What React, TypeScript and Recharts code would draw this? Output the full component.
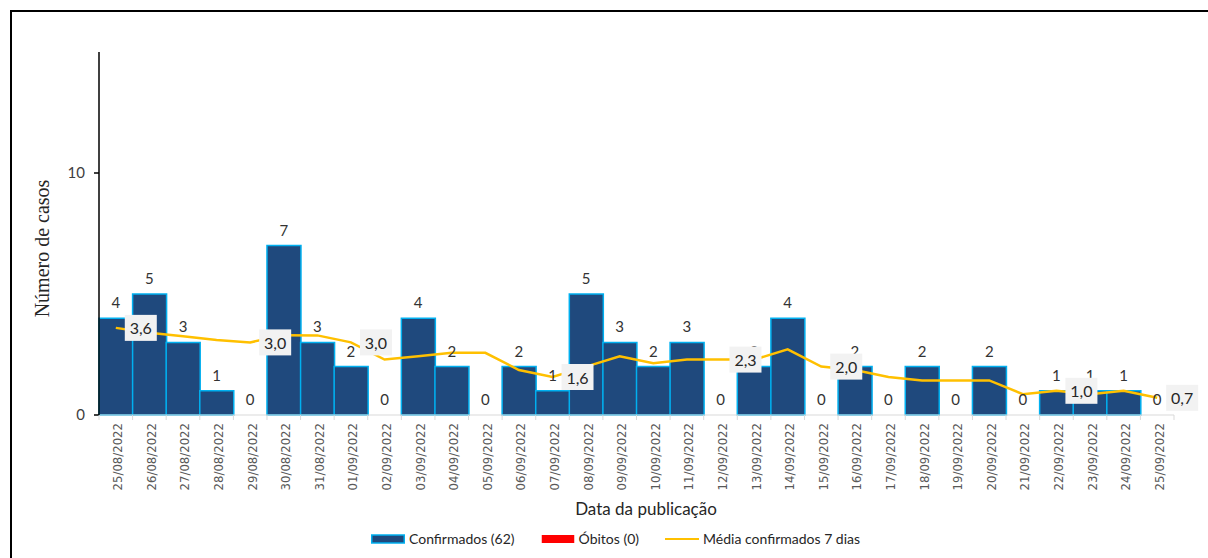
import React from 'react';
import { ComposedChart, Bar, Line, XAxis, YAxis, Legend, LabelList } from 'recharts';

const dates = [
  '25/08/2022', '26/08/2022', '27/08/2022', '28/08/2022', '29/08/2022', '30/08/2022', '31/08/2022',
  '01/09/2022', '02/09/2022', '03/09/2022', '04/09/2022', '05/09/2022', '06/09/2022', '07/09/2022',
  '08/09/2022', '09/09/2022', '10/09/2022', '11/09/2022', '12/09/2022', '13/09/2022', '14/09/2022',
  '15/09/2022', '16/09/2022', '17/09/2022', '18/09/2022', '19/09/2022', '20/09/2022', '21/09/2022',
  '22/09/2022', '23/09/2022', '24/09/2022', '25/09/2022',
];
const confirmados = [4, 5, 3, 1, 0, 7, 3, 2, 0, 4, 2, 0, 2, 1, 5, 3, 2, 3, 0, 2, 4, 0, 2, 0, 2, 0, 2, 0, 1, 1, 1, 0];
const obitos = [0, 0, 0, 0, 0, 0, 0, 0, 0, 0, 0, 0, 0, 0, 0, 0, 0, 0, 0, 0, 0, 0, 0, 0, 0, 0, 0, 0, 0, 0, 0, 0];
const media7 = [
  3.6, 3.4, 3.25, 3.1, 3.0, 3.3, 3.29, 3.0, 2.29, 2.43, 2.57, 2.57, 1.86, 1.57, 2.0, 2.43,
  2.14, 2.29, 2.29, 2.29, 2.71, 2.0, 1.86, 1.57, 1.43, 1.43, 1.43, 0.86, 1.0, 0.86, 1.0, 0.71,
];
// dias com rótulo da média móvel
const mediaLabelDates = ['25/08/2022', '29/08/2022', '01/09/2022', '07/09/2022', '12/09/2022', '15/09/2022', '22/09/2022', '25/09/2022'];
const yTicks = [0, 10];
const legendOrder = ['Confirmados (62)', 'Óbitos (0)', 'Média confirmados 7 dias'];

const data = dates.map((d, i) => ({
  date: d,
  confirmados: confirmados[i],
  obitos: obitos[i],
  media: media7[i],
}));

const W = 1208;
const H = 558;
const PLOT_LEFT = 99;
const PLOT_RIGHT = 34;
const BAND = (W - PLOT_LEFT - PLOT_RIGHT) / dates.length;
const SANS = 'Lato, "Open Sans", sans-serif';

const XTick = (props: any) => {
  const { x, y, payload, index } = props;
  const half = BAND / 2;
  const last = index === dates.length - 1;
  return (
    <g>
      <line x1={x - half} x2={x - half} y1={y} y2={y + 5} stroke="#d9d9d9" />
      {last && <line x1={x + half} x2={x + half} y1={y} y2={y + 5} stroke="#d9d9d9" />}
      <text
        transform={`translate(${x + 6.5},${y + 8}) rotate(-90)`}
        textAnchor="end"
        fontFamily='"Liberation Sans Narrow", "DejaVu Sans Condensed", sans-serif'
        fontSize={13}
        fill="#595959"
      >
        {payload.value}
      </text>
    </g>
  );
};

const MediaLabel = (props: any) => {
  const { x, y, value } = props;
  const idx = props.index ?? Math.round((x - PLOT_LEFT) / BAND - 0.5);
  if (!mediaLabelDates.includes(dates[idx])) return null;
  const cx = x + 25;
  return (
    <g>
      <rect x={cx - 16} y={y - 13} width={32} height={26} fill="#f2f2f2" />
      <text x={cx} y={y} textAnchor="middle" dominantBaseline="central" fontFamily={SANS} fontSize={16} fill="#262626">
        {Number(value).toFixed(1).replace('.', ',')}
      </text>
    </g>
  );
};

const renderLegend = (props: any) => {
  const payload = (props.payload || [])
    .filter((e: any) => legendOrder.includes(e.value))
    .sort((a: any, b: any) => legendOrder.indexOf(a.value) - legendOrder.indexOf(b.value));
  return (
    <div style={{ display: 'flex', alignItems: 'center', fontFamily: SANS, fontSize: 14, color: '#262626' }}>
      {payload.map((entry: any) => (
        <div key={entry.value} style={{ display: 'flex', alignItems: 'center', marginRight: 26 }}>
          <svg width={34} height={10} style={{ marginRight: 4 }}>
            {entry.type === 'line' ? (
              <line x1={0} x2={34} y1={5} y2={5} stroke={entry.color} strokeWidth={2} />
            ) : (
              <rect x={0.75} y={1} width={32.5} height={8} fill={entry.color} stroke={entry.payload?.stroke} strokeWidth={1.5} />
            )}
          </svg>
          <span>{entry.value}</span>
        </div>
      ))}
    </div>
  );
};

export default function App() {
  return (
    <div style={{ position: 'absolute', left: 0, top: 0, width: W, height: H, overflow: 'hidden', background: '#fff' }}>
      <div
        style={{
          position: 'absolute',
          left: 10,
          top: 10,
          width: W + 20,
          height: H + 20,
          borderTop: '2px solid #000',
          borderLeft: '2px solid #000',
        }}
      />
      <div style={{ position: 'absolute', left: 0, top: 0 }}>
        <ComposedChart
          width={W}
          height={H}
          data={data}
          margin={{ top: 52, right: PLOT_RIGHT, left: 0, bottom: 0 }}
          barCategoryGap={0}
        >
          <XAxis
            dataKey="date"
            height={143}
            interval={0}
            axisLine={{ stroke: '#d9d9d9' }}
            tickLine={false}
            tickSize={0}
            tickMargin={0}
            tick={<XTick />}
            label={(p: any) => {
              const vb = p.viewBox;
              return (
                <text x={vb.x + vb.width / 2 + 9.5} y={vb.y + 93} textAnchor="middle" dominantBaseline="central" fontFamily={SANS} fontSize={17} fill="#262626">
                  Data da publicação
                </text>
              );
            }}
          />
          <YAxis
            width={PLOT_LEFT}
            domain={[0, 15]}
            ticks={yTicks}
            interval={0}
            axisLine={{ stroke: '#000', strokeWidth: 1.5 }}
            tickLine={{ stroke: '#000', strokeWidth: 1.5 }}
            tickSize={5}
            tickMargin={9}
            tick={{ fontFamily: SANS, fontSize: 15, fill: '#404040' }}
            label={(p: any) => {
              const vb = p.viewBox;
              const cx = vb.x + 42;
              const cy = vb.y + vb.height / 2 + 15;
              return (
                <text
                  transform={`translate(${cx},${cy}) rotate(-90)`}
                  textAnchor="middle"
                  dominantBaseline="central"
                  fontFamily='"Liberation Serif", "Times New Roman", serif'
                  fontSize={20}
                  fill="#262626"
                >
                  Número de casos
                </text>
              );
            }}
          />
          <Legend
            layout="horizontal"
            verticalAlign="middle"
            align="center"
            wrapperStyle={{ top: 530, left: 371, width: 700, height: 20 }}
            content={renderLegend}
          />
          <Bar
            dataKey="confirmados"
            name="Confirmados (62)"
            stackId="a"
            fill="#1f497d"
            stroke="#00b0f0"
            strokeWidth={1.5}
            isAnimationActive={false}
          />
          <Bar dataKey="obitos" name="Óbitos (0)" stackId="a" fill="#ff0000" isAnimationActive={false} />
          {/* rótulos dos confirmados, inclusive os zeros */}
          <Line
            dataKey="confirmados"
            stroke="none"
            dot={false}
            activeDot={false}
            legendType="none"
            isAnimationActive={false}
          >
            <LabelList dataKey="confirmados" position="top" offset={10} fontFamily={SANS} fontSize={15} fill="#333333" />
          </Line>
          <Line
            dataKey="media"
            name="Média confirmados 7 dias"
            type="linear"
            stroke="#ffc000"
            strokeWidth={2.5}
            dot={false}
            activeDot={false}
            isAnimationActive={false}
          >
            <LabelList dataKey="media" content={<MediaLabel />} />
          </Line>
        </ComposedChart>
      </div>
    </div>
  );
}
